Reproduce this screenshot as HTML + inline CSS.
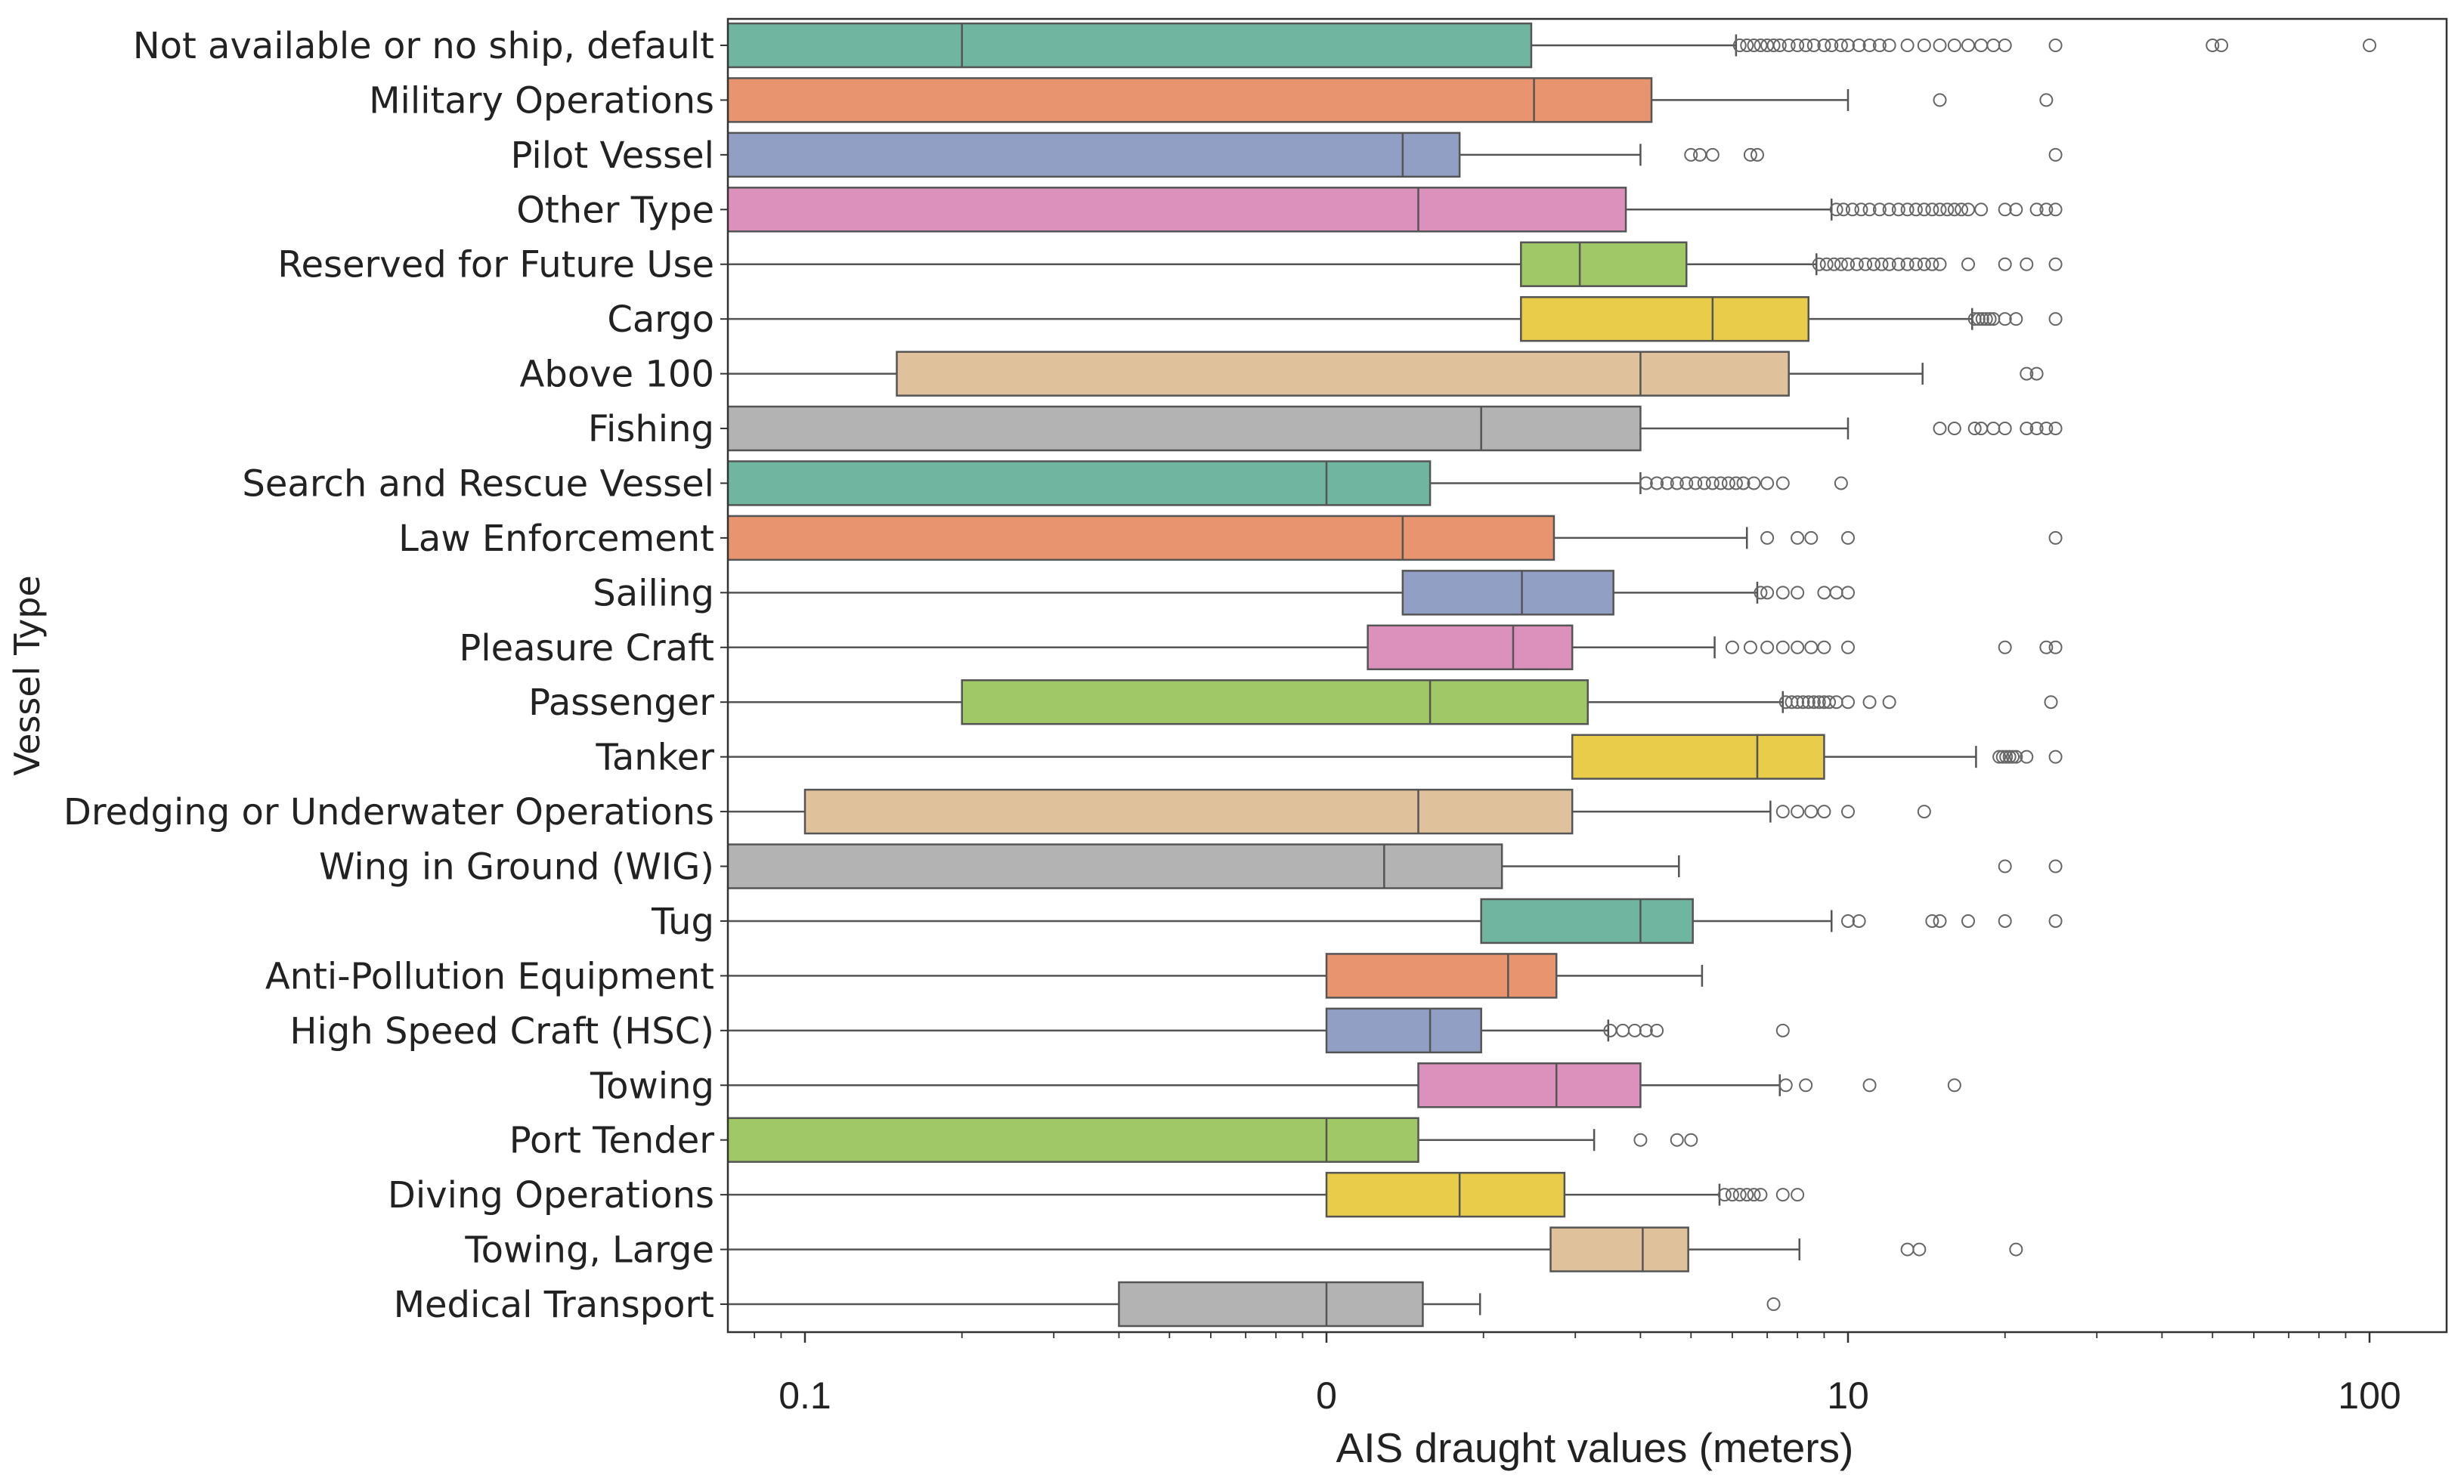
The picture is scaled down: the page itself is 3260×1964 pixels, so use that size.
<!DOCTYPE html>
<html><head><meta charset="utf-8"><style>
html,body{margin:0;padding:0;background:#fff}
svg{display:block}
</style></head><body>
<svg id="chart" width="3260" height="1964" viewBox="0 0 3260 1964" xmlns="http://www.w3.org/2000/svg"></svg>
<script>
const categories=["Not available or no ship, default","Military Operations","Pilot Vessel","Other Type","Reserved for Future Use","Cargo","Above 100","Fishing","Search and Rescue Vessel","Law Enforcement","Sailing","Pleasure Craft","Passenger","Tanker","Dredging or Underwater Operations","Wing in Ground (WIG)","Tug","Anti-Pollution Equipment","High Speed Craft (HSC)","Towing","Port Tender","Diving Operations","Towing, Large","Medical Transport"];
const whiskerLow=[0.05,0.05,0.05,0.05,0.05,0.05,0.05,0.05,0.05,0.05,0.05,0.05,0.05,0.05,0.05,0.05,0.05,0.05,0.05,0.05,0.05,0.05,0.05,0.05];
const q1=[0.05,0.05,0.05,0.05,2.36,2.36,0.15,0.05,0.05,0.05,1.4,1.2,0.2,2.96,0.1,0.05,1.98,1,1,1.5,0.05,1,2.69,0.4];
const median=[0.2,2.5,1.4,1.5,3.06,5.5,4,1.98,1,1.4,2.37,2.28,1.58,6.7,1.5,1.29,4,2.23,1.58,2.76,1,1.8,4.04,1];
const q3=[2.47,4.2,1.8,3.75,4.9,8.4,7.7,4,1.58,2.73,3.55,2.96,3.17,9,2.96,2.17,5.04,2.76,1.98,4,1.5,2.86,4.94,1.53];
const whiskerHigh=[6.1,10,4,9.3,8.7,17.3,13.9,10,4,6.4,6.7,5.55,7.5,17.6,7.1,4.74,9.3,5.25,3.47,7.4,3.26,5.67,8.07,1.97];
const outliers=[
[6.2,6.4,6.6,6.8,7,7.2,7.4,7.7,8,8.3,8.6,9,9.3,9.7,10,10.5,11,11.5,12,13,14,15,16,17,18,19,20,25,50,52,100],
[15,24],
[5,5.2,5.5,6.5,6.7,25],
[9.5,9.8,10.2,10.6,11,11.5,12,12.5,13,13.5,14,14.5,15,15.5,16,16.5,17,18,20,21,23,24,25],
[8.8,9.1,9.4,9.7,10,10.4,10.8,11.2,11.6,12,12.5,13,13.5,14,14.5,15,17,20,22,25],
[17.5,17.8,18.1,18.4,18.7,19,20,21,25],
[22,23],
[15,16,17.5,18,19,20,22,23,24,25],
[4.1,4.3,4.5,4.7,4.9,5.1,5.3,5.5,5.7,5.9,6.1,6.3,6.6,7,7.5,9.7],
[7,8,8.5,10,25],
[6.8,7,7.5,8,9,9.5,10],
[6,6.5,7,7.5,8,8.5,9,10,20,24,25],
[7.6,7.8,8,8.2,8.4,8.6,8.8,9,9.2,9.5,10,11,12,24.5],
[19.5,19.8,20.1,20.4,20.7,21,22,25],
[7.5,8,8.5,9,10,14],
[20,25],
[10,10.5,14.5,15,17,20,25],
[],
[3.5,3.7,3.9,4.1,4.3,7.5],
[7.6,8.3,11,16],
[4,4.7,5],
[5.8,6,6.2,6.4,6.6,6.8,7.5,8],
[13,13.7,21],
[7.2]];
const xTickValues=[0.1,1,10,100];
const xTickLabels=["0.1","0","10","100"];
const palette=["#70b59f","#e8946f","#919fc5","#dc91bd","#a0c866","#e8cc4a","#dfc29b","#b3b3b3"];

const NS="http://www.w3.org/2000/svg";
const svg=document.getElementById('chart');
const L=963,R=3237,T=25,B=1763;
function xs(v){return 1755+690*Math.log10(v);}
const step=(1726-60)/23;
function ys(i){return 60+i*step;}
const bh=step*0.8;
function mk(tag,attrs,parent){const e=document.createElementNS(NS,tag);for(const k in attrs)e.setAttribute(k,attrs[k]);(parent||svg).appendChild(e);return e;}

const defs=mk('defs',{});
const cp=mk('clipPath',{id:'plotclip'},defs);
mk('rect',{x:L,y:T,width:R-L,height:B-T},cp);

const plot=mk('g',{'clip-path':'url(#plotclip)'});



categories.forEach((c,i)=>{
  const y=ys(i);const col=palette[i%8];
  const g=mk('g',{},plot);
  
  
  const st='#555';
  mk('line',{x1:xs(whiskerLow[i]),x2:xs(q1[i]),y1:y,y2:y,stroke:st,'stroke-width':2.5},g);
  mk('line',{x1:xs(q3[i]),x2:xs(whiskerHigh[i]),y1:y,y2:y,stroke:st,'stroke-width':2.5},g);
  mk('line',{x1:xs(whiskerHigh[i]),x2:xs(whiskerHigh[i]),y1:y-bh/4,y2:y+bh/4,stroke:st,'stroke-width':2.5},g);
  mk('line',{x1:xs(whiskerLow[i]),x2:xs(whiskerLow[i]),y1:y-bh/4,y2:y+bh/4,stroke:st,'stroke-width':2.5},g);
  mk('rect',{x:xs(q1[i]),y:y-bh/2,width:xs(q3[i])-xs(q1[i]),height:bh,fill:col,stroke:st,'stroke-width':2.5},g);
  mk('line',{x1:xs(median[i]),x2:xs(median[i]),y1:y-bh/2,y2:y+bh/2,stroke:st,'stroke-width':2.5},g);
  outliers[i].forEach(v=>{
    const o=mk('circle',{cx:xs(v),cy:y,r:8,fill:'none',stroke:'#666','stroke-width':2},g);
    
    
  });
});

const frame=mk('rect',{x:L,y:T,width:R-L,height:B-T,fill:'none',stroke:'#333','stroke-width':2.5});



const xa=mk('g',{});


for(let d=-2;d<=2;d++){for(let m=1;m<10;m++){const v=m*Math.pow(10,d);const x=xs(v);if(x<L||x>R)continue;
  mk('line',{x1:x,x2:x,y1:B,y2:B+(m===1?14:8),stroke:'#333','stroke-width':m===1?2.5:1.8},xa);}}
xTickValues.forEach((v,k)=>{
  const t=mk('text',{x:xs(v),y:1864,'text-anchor':'middle','font-family':'Liberation Sans, sans-serif','font-size':50,fill:'#222'},xa);
  t.textContent=xTickLabels[k];
  
  
});
const xt=mk('text',{x:2110,y:1935,'text-anchor':'middle','font-family':'Liberation Sans, sans-serif','font-size':55,fill:'#222'});
xt.textContent='AIS draught values (meters)';



const ya=mk('g',{});


categories.forEach((c,i)=>{
  const y=ys(i);
  mk('line',{x1:L-10,x2:L,y1:y,y2:y,stroke:'#333','stroke-width':2},ya);
  const t=mk('text',{x:L-18,y:y+17,'text-anchor':'end','font-family':'DejaVu Sans, sans-serif','font-size':48,fill:'#222'},ya);
  t.textContent=c;
  
  
});
const yt=mk('text',{x:0,y:0,'text-anchor':'middle','font-family':'DejaVu Sans, sans-serif','font-size':46,fill:'#222',transform:'translate(52,894) rotate(-90)'});
yt.textContent='Vessel Type';


</script>
</body></html>
